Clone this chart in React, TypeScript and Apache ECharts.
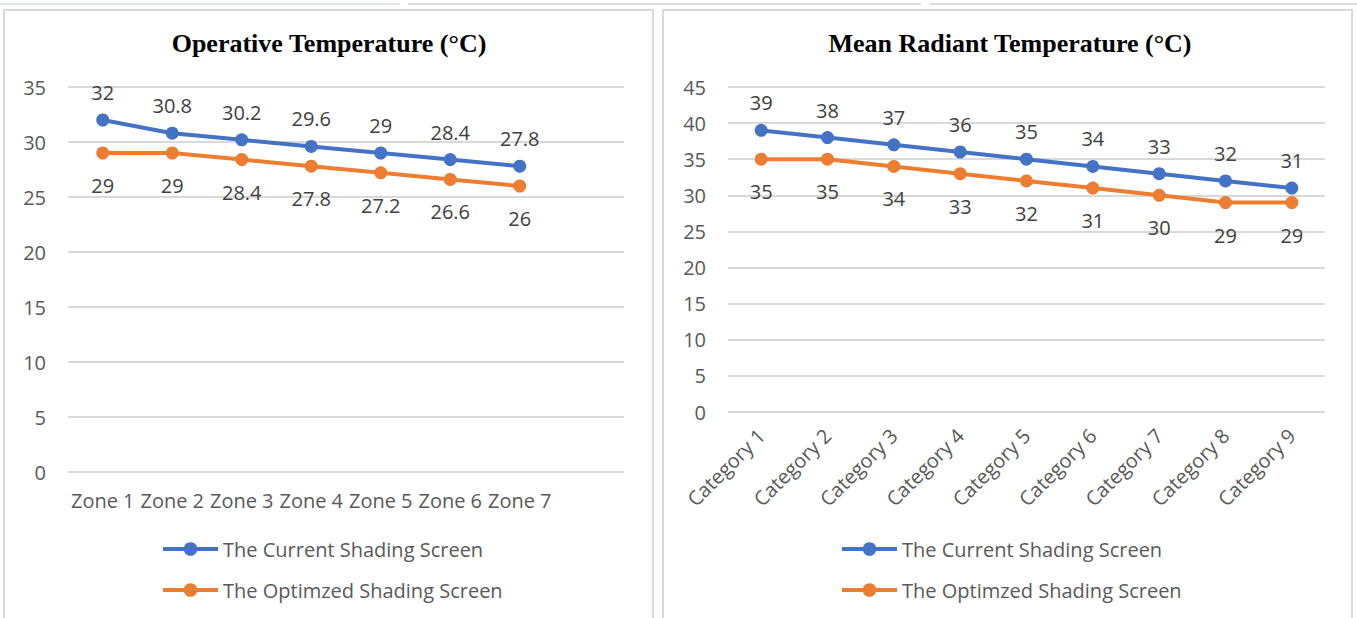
import React, { useEffect, useRef } from "react";
import * as echarts from "echarts";

// Operative temperature per zone (°C)
const zones = ["Zone 1", "Zone 2", "Zone 3", "Zone 4", "Zone 5", "Zone 6", "Zone 7", ""];
const opCurrent = [32, 30.8, 30.2, 29.6, 29, 28.4, 27.8];
const opOptimized = [29, 29, 28.4, 27.8, 27.2, 26.6, 26];

// Mean radiant temperature per category (°C)
const categories = [
  "Category 1", "Category 2", "Category 3", "Category 4", "Category 5",
  "Category 6", "Category 7", "Category 8", "Category 9",
];
const mrtCurrent = [39, 38, 37, 36, 35, 34, 33, 32, 31];
const mrtOptimized = [35, 35, 34, 33, 32, 31, 30, 29, 29];

const SERIES_CURRENT = "The Current Shading Screen";
const SERIES_OPTIMIZED = "The Optimzed Shading Screen";

const BLUE = "#4472C4";
const ORANGE = "#ED7D31";
const GRID = "#d9d9d9";
const AXIS_TEXT = "#595959";
const LABEL_TEXT = "#404040";
const SANS = "'Open Sans', sans-serif";
const SERIF = "'Liberation Serif', 'Times New Roman', serif";
const FS = 20;

function lineSeries(name: string, color: string, data: number[], idx: number, above: boolean) {
  return {
    type: "line",
    name,
    xAxisIndex: idx,
    yAxisIndex: idx,
    data,
    symbol: "circle",
    symbolSize: 13,
    lineStyle: { color, width: 4 },
    itemStyle: { color },
    label: {
      show: true,
      position: above ? "top" : "bottom",
      distance: above ? 11 : 16,
      color: LABEL_TEXT,
      fontFamily: SANS,
      fontSize: FS,
    },
  };
}

function valueAxis(idx: number, max: number) {
  return {
    type: "value",
    gridIndex: idx,
    min: 0,
    max,
    interval: 5,
    axisLine: { show: false },
    axisTick: { show: false },
    axisLabel: { color: AXIS_TEXT, fontFamily: SANS, fontSize: FS, margin: 22 },
    splitLine: { lineStyle: { color: GRID, width: 2 } },
  };
}

function legend(left: number) {
  return {
    orient: "vertical",
    left,
    top: 539,
    padding: 0,
    itemWidth: 55,
    itemHeight: 17,
    itemGap: 21,
    selectedMode: false,
    lineStyle: { width: 4 },
    textStyle: { color: AXIS_TEXT, fontFamily: SANS, fontSize: FS },
    data: [SERIES_CURRENT, SERIES_OPTIMIZED],
  };
}

export default function App() {
  const ref = useRef<HTMLDivElement>(null);

  useEffect(() => {
    if (!ref.current) return;
    const chart = echarts.init(ref.current, null, { renderer: "svg" });
    chart.setOption({
      animation: false,
      backgroundColor: "#ffffff",
      title: [
        {
          text: "Operative Temperature (°C)",
          left: 329,
          top: 30,
          textAlign: "center",
          padding: 0,
          textStyle: { fontFamily: SERIF, fontWeight: "bold", fontSize: 26, color: "#000" },
        },
        {
          text: "Mean Radiant Temperature (°C)",
          left: 1010,
          top: 30,
          textAlign: "center",
          padding: 0,
          textStyle: { fontFamily: SERIF, fontWeight: "bold", fontSize: 26, color: "#000" },
        },
      ],
      graphic: [
        { type: "line", shape: { x1: 0, y1: 4, x2: 400, y2: 4 }, style: { stroke: "#dde4ec", lineWidth: 2 } },
        { type: "line", shape: { x1: 408, y1: 4, x2: 921, y2: 4 }, style: { stroke: "#dcdcdc", lineWidth: 2 } },
        { type: "line", shape: { x1: 930, y1: 4, x2: 1357, y2: 4 }, style: { stroke: "#dcdcdc", lineWidth: 2 } },
        { type: "rect", shape: { x: 4, y: 10, width: 649, height: 620 }, style: { fill: "none", stroke: "#d9d9d9", lineWidth: 2 } },
        { type: "rect", shape: { x: 663, y: 10, width: 689, height: 620 }, style: { fill: "none", stroke: "#d9d9d9", lineWidth: 2 } },
      ],
      legend: [legend(161), legend(840)],
      grid: [
        { left: 68, top: 87, width: 556, height: 385, containLabel: false },
        { left: 728, top: 87, width: 597, height: 325, containLabel: false },
      ],
      xAxis: [
        {
          type: "category",
          gridIndex: 0,
          data: zones,
          axisLine: { show: false },
          axisTick: { show: false },
          axisLabel: { color: AXIS_TEXT, fontFamily: SANS, fontSize: FS, margin: 18, interval: 0 },
        },
        {
          type: "category",
          gridIndex: 1,
          data: categories,
          axisLine: { show: false },
          axisTick: { show: false },
          axisLabel: { color: AXIS_TEXT, fontFamily: SANS, fontSize: FS, margin: 20, rotate: 45, interval: 0 },
        },
      ],
      yAxis: [valueAxis(0, 35), valueAxis(1, 45)],
      series: [
        lineSeries(SERIES_CURRENT, BLUE, opCurrent, 0, true),
        lineSeries(SERIES_OPTIMIZED, ORANGE, opOptimized, 0, false),
        lineSeries(SERIES_CURRENT, BLUE, mrtCurrent, 1, true),
        lineSeries(SERIES_OPTIMIZED, ORANGE, mrtOptimized, 1, false),
      ],
    });
    return () => chart.dispose();
  }, []);

  return (
    <div
      ref={ref}
      style={{ position: "absolute", left: 0, top: 0, width: 1357, height: 618, background: "#fff" }}
    />
  );
}
